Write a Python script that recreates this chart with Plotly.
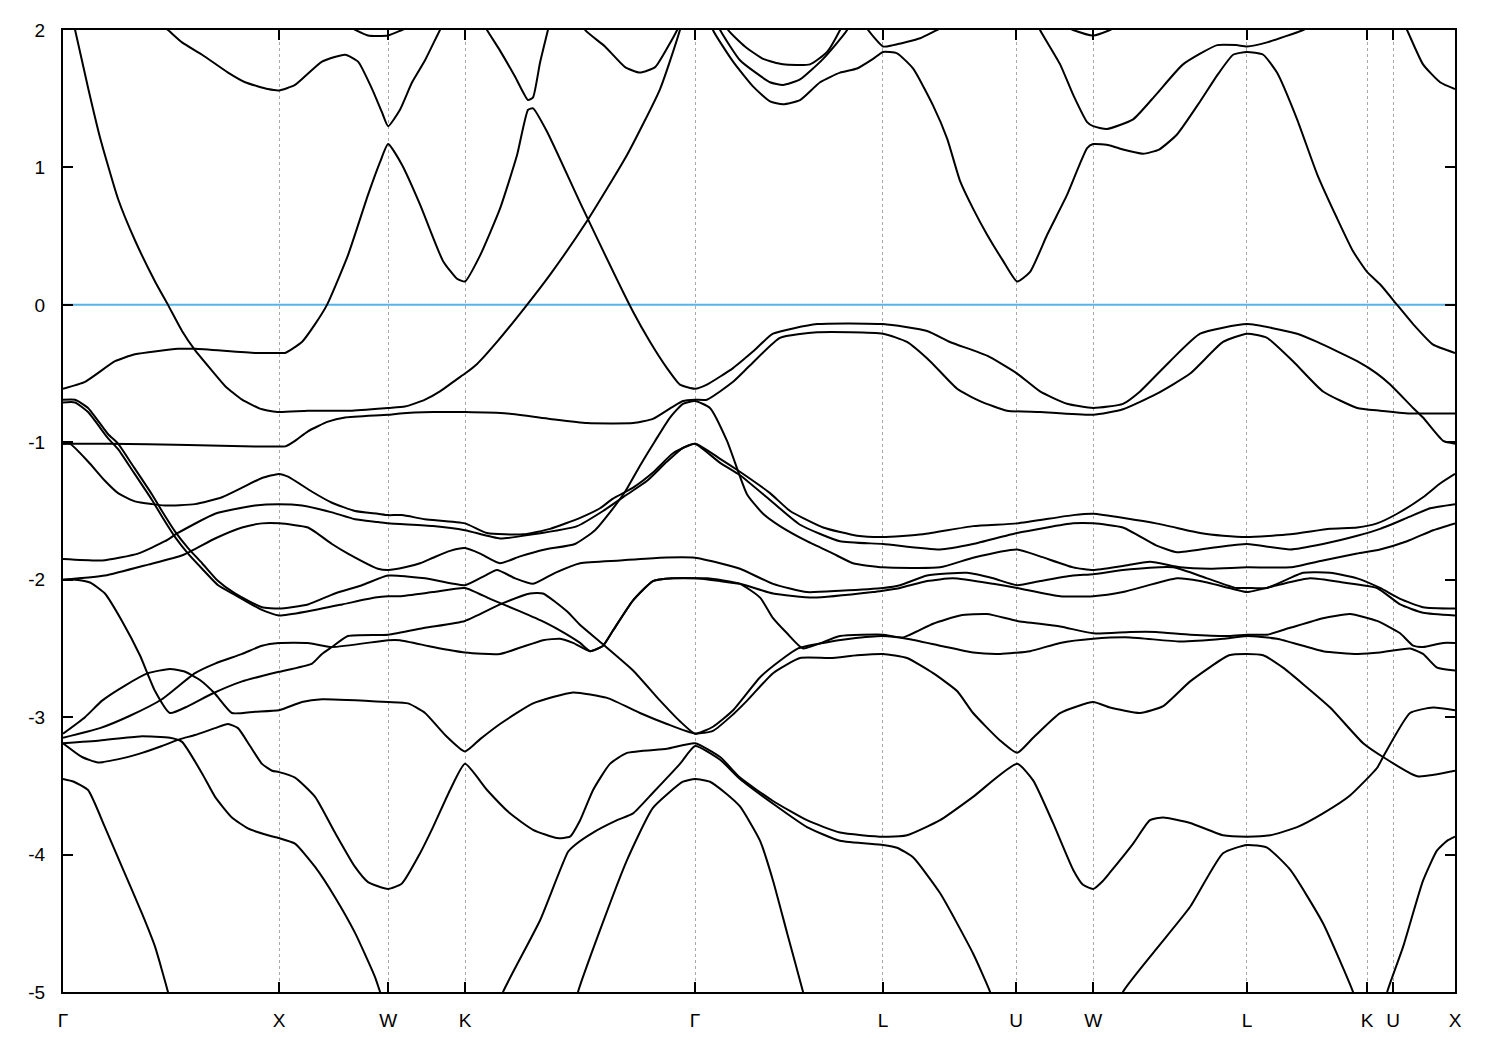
import plotly.graph_objects as go

# ---- axis data ----
tick_k = [0.0, 1.0, 1.505, 1.861, 2.926, 3.796, 4.412, 4.769, 5.481, 6.037, 6.157, 6.444]
tick_labels = ["Γ", "X", "W", "K", "Γ", "L", "U", "W", "L", "K", "U", "X"]
K_END = 6.444
E_MIN, E_MAX = -5, 2
E_ticks = [2, 1, 0, -1, -2, -3, -4, -5]
FERMI = 0.0

# ---- bands: (k, E) points, None = break ----
band_A = [(0.0, 2.38), (0.056, 2.00), (0.116, 1.58), (0.171, 1.22), (0.255, 0.77), (0.333, 0.47), (0.426, 0.17),
          (0.486, 0.00), (0.551, -0.19), (0.611, -0.33), (0.690, -0.48), (0.750, -0.59), (0.829, -0.69),
          (0.921, -0.76), (1.000, -0.78), (1.134, -0.77), (1.329, -0.77), (1.505, -0.75), (1.583, -0.74),
          (1.676, -0.69), (1.745, -0.63), (1.824, -0.54), (1.861, -0.50), (1.917, -0.43), (2.009, -0.27),
          (2.148, 0.00), (2.255, 0.22), (2.426, 0.61), (2.611, 1.09), (2.764, 1.57), (2.856, 2.00), (2.90, 2.30)]

band_B = [(0.42, 2.08), (0.486, 2.00), (0.551, 1.91), (0.644, 1.82), (0.764, 1.69), (0.843, 1.62), (0.949, 1.57),
          (1.000, 1.56), (1.074, 1.60), (1.199, 1.77), (1.306, 1.82), (1.366, 1.77), (1.431, 1.57), (1.477, 1.40),
          (1.505, 1.30), (1.560, 1.42), (1.616, 1.62), (1.676, 1.78), (1.745, 2.00), (1.78, 2.10),
          None,
          (6.19, 2.10), (6.222, 2.00), (6.296, 1.75), (6.375, 1.62), (6.444, 1.57)]

band_C = [(0.0, -0.61), (0.102, -0.56), (0.241, -0.41), (0.333, -0.36), (0.532, -0.32), (0.611, -0.32),
          (0.889, -0.35), (1.0, -0.35), (1.028, -0.35), (1.106, -0.27), (1.167, -0.14), (1.222, 0.0),
          (1.319, 0.36), (1.412, 0.80), (1.468, 1.04), (1.505, 1.17), (1.569, 1.02), (1.653, 0.73),
          (1.759, 0.32), (1.824, 0.19), (1.861, 0.17), (1.931, 0.36), (2.023, 0.70), (2.102, 1.09),
          (2.153, 1.42), (2.176, 1.43), (2.241, 1.26), (2.407, 0.70), (2.639, -0.05), (2.718, -0.27),
          (2.796, -0.46), (2.856, -0.58), (2.926, -0.61), (2.981, -0.58), (3.102, -0.46), (3.194, -0.34),
          (3.287, -0.21), (3.491, -0.14), (3.796, -0.14), (4.0, -0.19), (4.106, -0.27), (4.278, -0.37),
          (4.417, -0.50), (4.523, -0.63), (4.648, -0.72), (4.769, -0.75), (4.907, -0.72), (4.986, -0.63),
          (5.125, -0.41), (5.264, -0.21), (5.481, -0.14), (5.713, -0.21), (5.806, -0.27), (5.991, -0.41),
          (6.083, -0.50), (6.144, -0.58), (6.250, -0.75), (6.296, -0.82), (6.389, -0.99), (6.444, -1.01)]

band_D = [(0.0, -1.01), (0.208, -1.01), (0.579, -1.02), (0.889, -1.03), (1.0, -1.03), (1.03, -1.03),
          (1.074, -0.99), (1.134, -0.92), (1.227, -0.85), (1.306, -0.82), (1.505, -0.80), (1.560, -0.79),
          (1.713, -0.78), (1.861, -0.78), (2.056, -0.79), (2.255, -0.83), (2.426, -0.86), (2.639, -0.86),
          (2.731, -0.83), (2.824, -0.74), (2.870, -0.70), (2.926, -0.69), (2.981, -0.69), (3.102, -0.56),
          (3.181, -0.44), (3.319, -0.24), (3.491, -0.20), (3.796, -0.21), (3.907, -0.27), (4.014, -0.41),
          (4.139, -0.61), (4.245, -0.70), (4.370, -0.77), (4.523, -0.78), (4.769, -0.80), (4.907, -0.76),
          (5.060, -0.65), (5.218, -0.50), (5.370, -0.27), (5.481, -0.21), (5.574, -0.24), (5.694, -0.41),
          (5.833, -0.63), (5.991, -0.75), (6.097, -0.77), (6.236, -0.79), (6.444, -0.79)]

band_d = [(0.0, -1.01), (0.032, -1.01), (0.116, -1.14), (0.194, -1.28), (0.255, -1.37), (0.333, -1.43),
          (0.412, -1.45), (0.472, -1.46), (0.611, -1.45), (0.736, -1.40), (0.829, -1.33), (0.921, -1.26),
          (1.0, -1.23), (1.042, -1.25), (1.153, -1.36), (1.245, -1.44), (1.352, -1.50), (1.458, -1.52),
          (1.505, -1.53), (1.569, -1.53), (1.676, -1.56), (1.861, -1.59), (1.963, -1.66), (2.130, -1.67),
          (2.255, -1.63), (2.394, -1.55), (2.486, -1.48), (2.546, -1.41), (2.639, -1.33), (2.731, -1.22),
          (2.824, -1.08), (2.926, -1.01), (3.042, -1.12), (3.120, -1.20), (3.273, -1.37), (3.366, -1.50),
          (3.519, -1.62), (3.676, -1.68), (3.796, -1.69), (3.981, -1.67), (4.213, -1.61), (4.417, -1.59),
          (4.676, -1.53), (4.769, -1.52), (5.060, -1.59), (5.264, -1.66), (5.370, -1.68), (5.481, -1.69),
          (5.681, -1.67), (5.866, -1.63), (5.991, -1.62), (6.083, -1.59), (6.176, -1.52), (6.296, -1.40),
          (6.375, -1.30), (6.444, -1.23)]

band_e = [(0.0, -1.85), (0.181, -1.86), (0.347, -1.81), (0.472, -1.72), (0.532, -1.66), (0.704, -1.52),
          (0.889, -1.46), (1.0, -1.45), (1.106, -1.46), (1.245, -1.51), (1.352, -1.56), (1.458, -1.58),
          (1.505, -1.59), (1.713, -1.61), (1.861, -1.64), (2.023, -1.70), (2.176, -1.67), (2.380, -1.61),
          (2.500, -1.50), (2.611, -1.38), (2.704, -1.28), (2.796, -1.14), (2.870, -1.04), (2.926, -1.01),
          (3.042, -1.15), (3.134, -1.24), (3.273, -1.42), (3.412, -1.60), (3.597, -1.72), (3.796, -1.74),
          (4.060, -1.78), (4.213, -1.74), (4.417, -1.66), (4.676, -1.59), (4.769, -1.59), (4.907, -1.62),
          (5.060, -1.75), (5.157, -1.80), (5.310, -1.77), (5.481, -1.74), (5.681, -1.78), (5.833, -1.74),
          (5.991, -1.68), (6.097, -1.63), (6.222, -1.55), (6.329, -1.48), (6.444, -1.45)]

band_f = [(0.0, -2.00), (0.194, -1.97), (0.394, -1.89), (0.556, -1.82), (0.704, -1.70), (0.829, -1.62),
          (0.921, -1.59), (1.0, -1.59), (1.134, -1.62), (1.245, -1.74), (1.319, -1.81), (1.458, -1.92),
          (1.505, -1.93), (1.583, -1.91), (1.653, -1.88), (1.713, -1.84), (1.792, -1.79), (1.861, -1.77),
          (1.931, -1.81), (2.023, -1.88), (2.116, -1.83), (2.231, -1.78), (2.370, -1.74), (2.463, -1.64),
          (2.532, -1.51), (2.602, -1.36), (2.671, -1.17), (2.741, -0.99), (2.810, -0.82), (2.870, -0.72),
          (2.926, -0.70), (2.995, -0.75), (3.074, -0.99), (3.167, -1.38), (3.241, -1.52), (3.319, -1.61),
          (3.444, -1.72), (3.565, -1.81), (3.657, -1.88), (3.796, -1.91), (4.060, -1.91), (4.213, -1.84),
          (4.417, -1.78), (4.523, -1.83), (4.676, -1.91), (4.769, -1.93), (4.907, -1.90), (5.032, -1.87),
          (5.171, -1.91), (5.310, -1.92), (5.481, -1.91), (5.681, -1.91), (5.833, -1.86), (5.991, -1.81),
          (6.097, -1.78), (6.222, -1.72), (6.343, -1.64), (6.444, -1.59)]

band_P1 = [(0.0, -0.69), (0.056, -0.69), (0.116, -0.75), (0.208, -0.94), (0.255, -1.01), (0.319, -1.16),
           (0.412, -1.38), (0.458, -1.50), (0.519, -1.65), (0.579, -1.77), (0.644, -1.88), (0.718, -2.01),
           (0.796, -2.10), (0.921, -2.20), (1.0, -2.21), (1.134, -2.18), (1.259, -2.10), (1.384, -2.04),
           (1.505, -1.97), (1.676, -1.99), (1.861, -2.04), (1.954, -1.97), (2.009, -1.93), (2.093, -1.99),
           (2.176, -2.03), (2.278, -1.95), (2.394, -1.88), (2.579, -1.86), (2.764, -1.84), (2.926, -1.84),
           (3.042, -1.88), (3.134, -1.92), (3.287, -2.03), (3.444, -2.09), (3.597, -2.08), (3.796, -2.06),
           (3.875, -2.04), (4.000, -1.97), (4.185, -1.95), (4.306, -1.99), (4.417, -2.04), (4.523, -2.01),
           (4.676, -1.97), (4.769, -1.96), (4.907, -1.93), (5.139, -1.91), (5.296, -1.99), (5.431, -2.06),
           (5.481, -2.06), (5.574, -2.06), (5.741, -1.95), (5.866, -1.95), (5.991, -1.99), (6.097, -2.06),
           (6.190, -2.14), (6.296, -2.20), (6.444, -2.21)]

band_P2 = [(0.0, -0.71), (0.056, -0.71), (0.116, -0.78), (0.208, -0.97), (0.255, -1.05), (0.319, -1.20),
           (0.412, -1.42), (0.458, -1.54), (0.519, -1.69), (0.579, -1.81), (0.644, -1.92), (0.718, -2.04),
           (0.796, -2.11), (0.921, -2.22), (1.0, -2.26), (1.134, -2.23), (1.292, -2.18), (1.444, -2.13),
           (1.505, -2.12), (1.560, -2.12), (1.713, -2.09), (1.861, -2.06), (1.977, -2.14), (2.116, -2.23),
           (2.231, -2.31), (2.324, -2.39), (2.394, -2.46), (2.440, -2.52), (2.500, -2.48), (2.546, -2.37),
           (2.639, -2.15), (2.731, -2.01), (2.824, -1.99), (2.926, -1.99), (3.042, -2.01), (3.134, -2.03),
           (3.287, -2.10), (3.472, -2.13), (3.750, -2.09), (3.796, -2.08), (3.875, -2.06), (4.000, -2.01),
           (4.120, -1.99), (4.306, -2.03), (4.417, -2.06), (4.616, -2.12), (4.769, -2.12), (4.907, -2.09),
           (5.157, -1.99), (5.264, -2.01), (5.398, -2.06), (5.481, -2.09), (5.620, -2.04), (5.773, -1.99),
           (5.926, -2.02), (6.083, -2.06), (6.190, -2.18), (6.296, -2.24), (6.444, -2.26)]

band_i = [(0.0, -3.15), (0.171, -3.08), (0.310, -2.99), (0.458, -2.87), (0.611, -2.68), (0.704, -2.61),
          (0.829, -2.54), (0.921, -2.48), (1.0, -2.46), (1.134, -2.46), (1.245, -2.49), (1.505, -2.44),
          (1.560, -2.44), (1.713, -2.49), (1.861, -2.53), (2.023, -2.54), (2.222, -2.44), (2.301, -2.43),
          (2.361, -2.46), (2.440, -2.52), (2.500, -2.48), (2.546, -2.37), (2.639, -2.15), (2.731, -2.01),
          (2.824, -1.99), (2.926, -1.99), (2.981, -1.99), (3.134, -2.03), (3.227, -2.13), (3.287, -2.28),
          (3.352, -2.39), (3.426, -2.50), (3.597, -2.41), (3.796, -2.40), (3.889, -2.42), (4.028, -2.32),
          (4.153, -2.26), (4.278, -2.25), (4.417, -2.30), (4.616, -2.34), (4.769, -2.39), (4.940, -2.38),
          (5.060, -2.38), (5.218, -2.40), (5.398, -2.41), (5.481, -2.40), (5.574, -2.40), (5.681, -2.35),
          (5.833, -2.28), (5.958, -2.25), (6.083, -2.30), (6.190, -2.39), (6.250, -2.48), (6.296, -2.49),
          (6.389, -2.46), (6.444, -2.46)]

band_g = [(0.0, -2.00), (0.056, -2.00), (0.125, -2.02), (0.194, -2.10), (0.273, -2.30), (0.356, -2.55),
          (0.426, -2.81), (0.495, -2.97), (0.579, -2.92), (0.690, -2.83), (0.829, -2.74), (0.921, -2.70),
          (1.0, -2.67), (1.153, -2.61), (1.199, -2.54), (1.245, -2.49), (1.319, -2.41), (1.505, -2.40),
          (1.676, -2.35), (1.861, -2.30), (2.023, -2.18), (2.162, -2.10), (2.222, -2.10), (2.333, -2.23),
          (2.394, -2.33), (2.500, -2.47), (2.639, -2.66), (2.764, -2.88), (2.856, -3.03), (2.926, -3.12),
          (3.009, -3.07), (3.102, -2.95), (3.227, -2.71), (3.319, -2.59), (3.403, -2.50), (3.519, -2.46),
          (3.644, -2.43), (3.796, -2.41), (3.907, -2.43), (4.060, -2.48), (4.213, -2.53), (4.338, -2.54),
          (4.477, -2.52), (4.616, -2.46), (4.769, -2.43), (4.940, -2.42), (5.171, -2.45), (5.370, -2.43),
          (5.481, -2.41), (5.620, -2.43), (5.833, -2.52), (5.991, -2.54), (6.097, -2.53), (6.236, -2.50),
          (6.296, -2.54), (6.361, -2.64), (6.444, -2.66)]

band_h = [(0.0, -3.12), (0.102, -3.00), (0.181, -2.88), (0.287, -2.77), (0.394, -2.68), (0.495, -2.65),
          (0.565, -2.67), (0.634, -2.73), (0.704, -2.83), (0.782, -2.97), (0.889, -2.96), (1.0, -2.95),
          (1.106, -2.89), (1.199, -2.87), (1.505, -2.89), (1.597, -2.90), (1.676, -2.97), (1.769, -3.13),
          (1.861, -3.25), (1.931, -3.16), (2.023, -3.05), (2.176, -2.90), (2.361, -2.82), (2.519, -2.86),
          (2.671, -2.97), (2.796, -3.05), (2.926, -3.12), (3.009, -3.10), (3.102, -2.98), (3.167, -2.88),
          (3.287, -2.68), (3.412, -2.57), (3.551, -2.57), (3.676, -2.55), (3.796, -2.54), (3.907, -2.57),
          (4.028, -2.68), (4.139, -2.81), (4.213, -2.97), (4.338, -3.17), (4.417, -3.26), (4.491, -3.15),
          (4.616, -2.97), (4.769, -2.89), (4.847, -2.93), (4.986, -2.97), (5.093, -2.92), (5.218, -2.74),
          (5.398, -2.55), (5.481, -2.54), (5.556, -2.55), (5.648, -2.64), (5.741, -2.76), (5.866, -2.93),
          (6.019, -3.19), (6.111, -3.29), (6.269, -3.43), (6.444, -3.39)]

band_j = [(0.0, -3.19), (0.088, -3.29), (0.162, -3.33), (0.273, -3.30), (0.366, -3.26), (0.458, -3.21),
          (0.542, -3.16), (0.611, -3.13), (0.704, -3.08), (0.764, -3.05), (0.810, -3.08), (0.866, -3.21),
          (0.921, -3.34), (0.968, -3.39), (1.0, -3.40), (1.074, -3.44), (1.167, -3.58), (1.259, -3.84),
          (1.352, -4.09), (1.412, -4.20), (1.505, -4.25), (1.569, -4.21), (1.653, -3.99), (1.713, -3.80),
          (1.792, -3.53), (1.861, -3.34), (1.963, -3.53), (2.069, -3.70), (2.176, -3.82), (2.287, -3.88),
          (2.347, -3.87), (2.394, -3.75), (2.454, -3.53), (2.532, -3.34), (2.611, -3.26), (2.796, -3.23),
          (2.926, -3.19), (3.042, -3.29), (3.134, -3.44), (3.287, -3.61), (3.444, -3.75), (3.597, -3.84),
          (3.796, -3.87), (3.907, -3.86), (4.060, -3.75), (4.213, -3.58), (4.417, -3.34), (4.491, -3.46),
          (4.583, -3.77), (4.676, -4.11), (4.722, -4.22), (4.769, -4.25), (4.815, -4.19), (4.847, -4.13),
          (4.954, -3.92), (5.032, -3.75), (5.093, -3.73), (5.218, -3.77), (5.370, -3.86), (5.481, -3.87),
          (5.588, -3.86), (5.713, -3.80), (5.833, -3.70), (5.958, -3.57), (6.083, -3.37), (6.111, -3.29),
          (6.236, -2.97), (6.343, -2.93), (6.444, -2.95)]

band_m = [(0.0, -3.19), (0.171, -3.17), (0.356, -3.14), (0.495, -3.15), (0.551, -3.18), (0.644, -3.41),
          (0.704, -3.58), (0.782, -3.73), (0.856, -3.81), (0.949, -3.86), (1.0, -3.88), (1.074, -3.92),
          (1.167, -4.09), (1.259, -4.31), (1.352, -4.57), (1.444, -4.89), (1.468, -5.00), (1.49, -5.10),
          None,
          (2.02, -5.10), (2.037, -5.00), (2.208, -4.48), (2.338, -3.98), (2.370, -3.93), (2.454, -3.84),
          (2.565, -3.75), (2.639, -3.70), (2.731, -3.55), (2.856, -3.34), (2.926, -3.21), (3.042, -3.31),
          (3.134, -3.45), (3.287, -3.63), (3.444, -3.80), (3.597, -3.90), (3.796, -3.93), (3.861, -3.95),
          (3.935, -4.02), (4.060, -4.28), (4.213, -4.72), (4.292, -5.00), (4.31, -5.10),
          None,
          (4.894, -5.10), (4.907, -5.00), (5.060, -4.69), (5.218, -4.38), (5.370, -3.99), (5.481, -3.93),
          (5.574, -3.95), (5.681, -4.11), (5.833, -4.50), (5.972, -5.00), (5.99, -5.10),
          None,
          (6.12, -5.10), (6.130, -5.00), (6.204, -4.67), (6.296, -4.19), (6.361, -3.97), (6.407, -3.90),
          (6.444, -3.87)]

band_n = [(0.0, -3.45), (0.05, -3.47), (0.116, -3.53), (0.194, -3.80), (0.273, -4.09), (0.366, -4.43),
          (0.426, -4.67), (0.486, -5.00), (0.50, -5.10),
          None,
          (2.37, -5.10), (2.384, -5.00), (2.486, -4.55), (2.611, -4.04), (2.731, -3.66), (2.870, -3.47),
          (2.926, -3.45), (2.995, -3.47), (3.065, -3.55), (3.134, -3.65), (3.227, -3.90), (3.287, -4.19),
          (3.352, -4.57), (3.426, -5.00), (3.44, -5.10)]

band_T1 = [(2.995, 2.10), (3.009, 2.00), (3.102, 1.77), (3.194, 1.59), (3.273, 1.48), (3.333, 1.46),
           (3.412, 1.49), (3.505, 1.62), (3.597, 1.69), (3.676, 1.72), (3.750, 1.79), (3.796, 1.84),
           (3.861, 1.83), (3.935, 1.72), (4.028, 1.45), (4.093, 1.21), (4.153, 0.90), (4.213, 0.70),
           (4.278, 0.51), (4.352, 0.32), (4.417, 0.17), (4.477, 0.24), (4.556, 0.51), (4.648, 0.80),
           (4.741, 1.14), (4.769, 1.17), (4.847, 1.16), (4.907, 1.13), (5.000, 1.10), (5.074, 1.13),
           (5.157, 1.24), (5.264, 1.48), (5.343, 1.67), (5.417, 1.82), (5.481, 1.84), (5.556, 1.82),
           (5.620, 1.69), (5.713, 1.35), (5.806, 0.95), (5.898, 0.63), (5.972, 0.39), (6.037, 0.24),
           (6.097, 0.15), (6.176, 0.00), (6.250, -0.14), (6.343, -0.29), (6.444, -0.35)]

band_T2 = [(3.00, 2.15), (3.042, 2.00), (3.134, 1.78), (3.273, 1.62), (3.333, 1.60), (3.412, 1.64),
           (3.519, 1.79), (3.630, 2.00), (3.67, 2.15)]
band_T3 = [(3.04, 2.15), (3.079, 2.00), (3.157, 1.88), (3.241, 1.79), (3.333, 1.75), (3.458, 1.75),
           (3.537, 1.84), (3.597, 2.00), (3.64, 2.15)]
band_T4 = [(3.69, 2.10), (3.727, 2.00), (3.796, 1.88), (3.843, 1.89), (3.968, 1.94), (4.046, 2.00), (4.106, 2.04)]
band_T5 = [(4.48, 2.15), (4.523, 2.00), (4.616, 1.75), (4.676, 1.53), (4.741, 1.33), (4.769, 1.30),
           (4.833, 1.28), (4.954, 1.35), (5.060, 1.53), (5.185, 1.75), (5.343, 1.89), (5.431, 1.89),
           (5.481, 1.88), (5.574, 1.91), (5.741, 2.00), (5.82, 2.06)]
band_T6 = [(1.329, 2.02), (1.412, 1.96), (1.505, 1.96), (1.569, 2.00), (1.616, 2.03)]
band_T7 = [(4.62, 2.04), (4.676, 2.00), (4.769, 1.96), (4.847, 2.00), (4.90, 2.04)]
band_T8 = [(1.931, 2.10), (1.963, 2.00), (2.023, 1.85), (2.093, 1.66), (2.153, 1.49), (2.176, 1.51),
           (2.208, 1.76), (2.245, 2.00), (2.26, 2.10)]
band_T9 = [(2.39, 2.10), (2.417, 2.00), (2.509, 1.88), (2.602, 1.73), (2.671, 1.69), (2.741, 1.73),
           (2.801, 1.88), (2.843, 2.00), (2.87, 2.10)]

bands = [band_A, band_B, band_C, band_D, band_d, band_e, band_f, band_P1, band_P2, band_i, band_g,
         band_h, band_j, band_m, band_n, band_T1, band_T2, band_T3, band_T4, band_T5, band_T6, band_T7,
         band_T8, band_T9]

FONT = "Liberation Sans, Arial, Helvetica, sans-serif"

fig = go.Figure()

# Fermi level
fig.add_trace(go.Scatter(x=[0.0, K_END], y=[FERMI, FERMI], mode="lines",
                         line=dict(color="#56b4e9", width=2), hoverinfo="skip", showlegend=False))

for b in bands:
    xs, ys = [], []
    for p in b:
        if p is None:
            xs.append(None)
            ys.append(None)
        else:
            xs.append(p[0])
            ys.append(p[1])
    fig.add_trace(go.Scatter(x=xs, y=ys, mode="lines",
                             line=dict(color="black", width=2, shape="spline", smoothing=0.5),
                             hoverinfo="skip", showlegend=False))

fig.update_layout(
    width=1500, height=1050,
    margin=dict(l=55, r=53, t=20, b=66),
    paper_bgcolor="white", plot_bgcolor="white",
    font=dict(family=FONT, size=19, color="black"),
    xaxis=dict(range=[0, K_END], tickmode="array", tickvals=tick_k, ticktext=tick_labels,
               ticks="inside", ticklen=10, tickwidth=1.5, tickcolor="black",
               showline=True, linecolor="black", linewidth=2, mirror="allticks",
               showgrid=True, gridcolor="#a8a8a8", griddash="dot", gridwidth=1,
               zeroline=False, ticklabelstandoff=10, tickfont=dict(family=FONT, size=19)),
    yaxis=dict(range=[E_MIN, E_MAX], tickmode="array", tickvals=E_ticks,
               ticktext=[str(v) for v in E_ticks],
               ticks="inside", ticklen=10, tickwidth=1.5, tickcolor="black",
               showline=True, linecolor="black", linewidth=2, mirror="allticks",
               showgrid=False, zeroline=False, ticklabelstandoff=12,
               tickfont=dict(family=FONT, size=19)),
)

fig.write_html("out.html")
